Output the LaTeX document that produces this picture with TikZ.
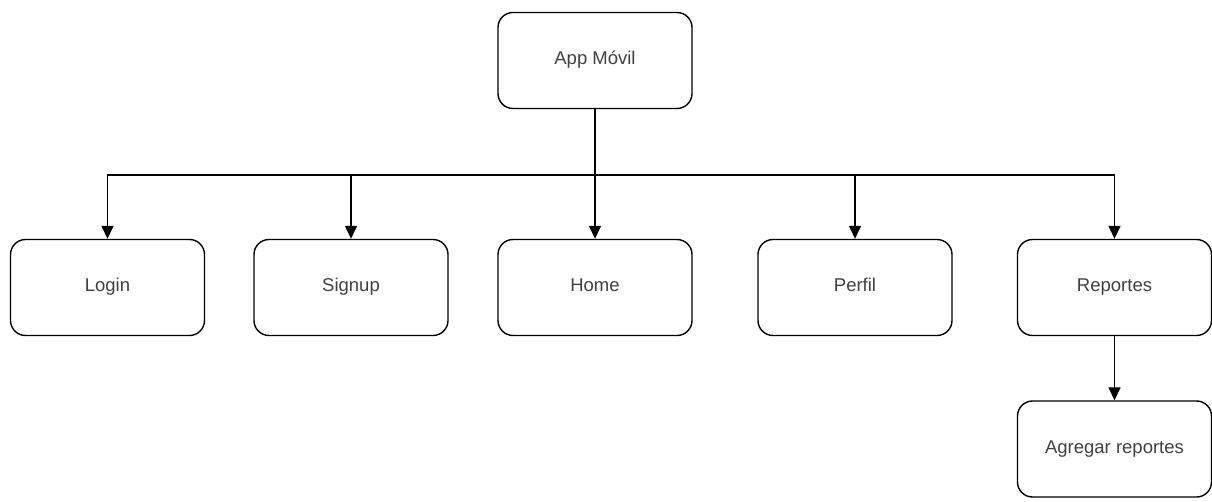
\documentclass[tikz,border=0pt]{standalone}
\usepackage{fontspec}
\setmainfont{Liberation Sans}
\usetikzlibrary{arrows.meta}

\begin{document}
\begin{tikzpicture}[x=1pt,y=-1pt,>={Triangle[length=13pt,width=12pt]},
		box/.style={draw,line width=1.4pt,rounded corners=15pt,minimum width=194pt,
			minimum height=96pt,inner sep=0pt,text height=13pt,text depth=4pt,
			font=\fontsize{18.5}{22}\selectfont,text=black!75},
		link/.style={line width=1.4pt}]
		
		\useasboundingbox (0,0) rectangle (1212,502);
		
		% Root
		\node[box] (app) at (595,60.5) {App Móvil};
		
		% Pantallas
		\node[box] (login)    at (107.5,287.5) {Login};
		\node[box] (signup)   at (351,287.5) {Signup};
		\node[box] (home)     at (595,287.5) {Home};
		\node[box] (perfil)   at (855,287.5) {Perfil};
		\node[box] (reportes) at (1114.5,287.5) {Reportes};
		\node[box] (agregar)  at (1114.5,449) {Agregar reportes};
		
		% Connections
		\coordinate (bus) at (595,175);
		\draw[link] (app) -- (bus);
		\foreach \n in {login,signup,home,perfil,reportes} {
			\draw[link,->] (bus) -| (\n);
		}
		\draw[link,->] (reportes) -- (agregar);
		
	\end{tikzpicture}
\end{document}
